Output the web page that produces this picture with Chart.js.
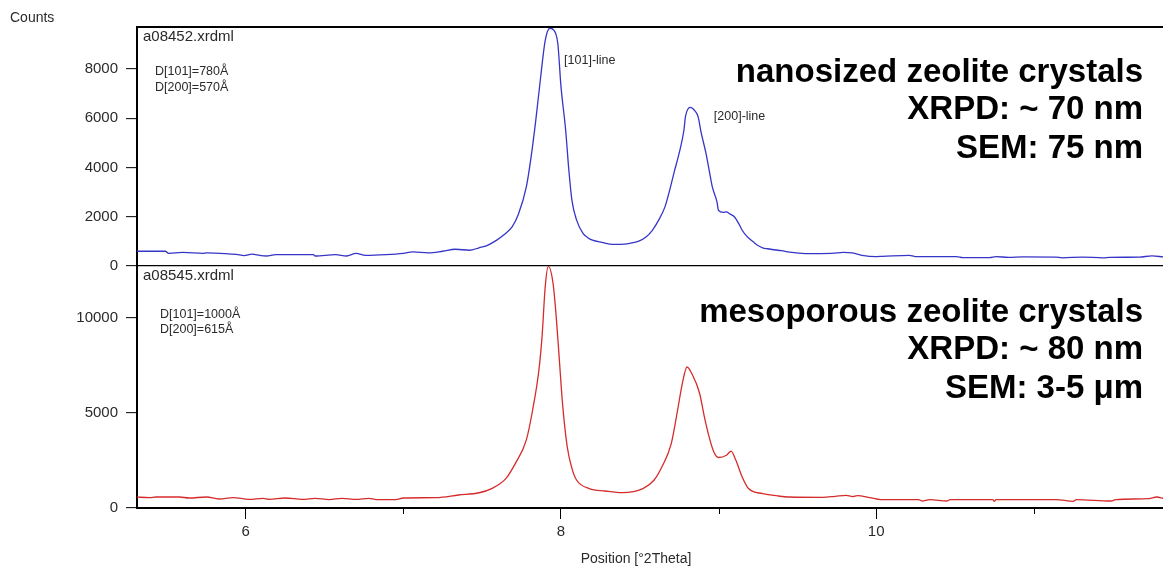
<!DOCTYPE html>
<html>
<head>
<meta charset="utf-8">
<script src="https://cdn.jsdelivr.net/npm/chart.js@4/dist/chart.umd.min.js"></script>
<style>
  html, body { margin: 0; padding: 0; background: #fff; }
  #wrap { width: 1163px; height: 567px; position: relative; }
</style>
</head>
<body>
<div id="wrap"><canvas id="xrd" width="1163" height="567"></canvas></div>
<script>
// Diffraction scans, position in degrees 2-theta and detector counts
const theta2Nano = [
  5.30, 5.49, 5.51, 5.60, 5.73, 5.75, 5.87, 5.94, 5.99, 6.04, 6.09, 6.13, 6.19, 6.30, 6.43, 6.44,
  6.57, 6.64, 6.70, 6.76, 6.89, 7.00, 7.06, 7.16, 7.25, 7.33, 7.42, 7.48, 7.53, 7.59, 7.64, 7.69,
  7.73, 7.78, 7.81, 7.84, 7.87, 7.90, 7.93, 7.95, 7.98, 8.00, 8.03, 8.05, 8.07, 8.10, 8.14, 8.17,
  8.20, 8.26, 8.33, 8.38, 8.43, 8.49, 8.54, 8.58, 8.62, 8.66, 8.69, 8.72, 8.75, 8.78, 8.79, 8.82,
  8.85, 8.87, 8.89, 8.92, 8.94, 8.96, 8.99, 9.00, 9.03, 9.05, 9.07, 9.10, 9.13, 9.15, 9.18, 9.22,
  9.25, 9.28, 9.31, 9.34, 9.40, 9.45, 9.55, 9.72, 9.79, 9.85, 9.91, 10.00, 10.04, 10.21, 10.25, 10.51,
  10.55, 10.72, 10.76, 10.84, 10.93, 11.14, 11.18, 11.31, 11.44, 11.48, 11.67, 11.75, 11.82
];
const countsNano = [
  598, 598, 516, 552, 516, 530, 504, 470, 420, 480, 430, 406, 463, 463, 463, 406,
  463, 406, 516, 435, 463, 516, 570, 530, 598, 679, 640, 740, 830, 1040, 1280, 1590,
  2100, 3200, 4400, 5900, 7600, 9150, 9650, 9600, 9030, 7300, 5500, 3900, 2650, 1850, 1320, 1150,
  1050, 960, 880, 880, 910, 1000, 1180, 1450, 1860, 2400, 3080, 3850, 4580, 5500, 6060, 6440,
  6300, 6060, 5400, 4580, 3900, 3220, 2600, 2250, 2180, 2200, 2120, 2000, 1700, 1450, 1200, 980,
  830, 740, 700, 670, 620, 560, 505, 516, 557, 530, 435, 382, 390, 435, 382, 382,
  341, 341, 382, 350, 370, 362, 330, 362, 330, 350, 362, 408, 370
];

const theta2Meso = [
  5.30, 5.39, 5.43, 5.58, 5.64, 5.75, 5.83, 5.92, 6.02, 6.11, 6.15, 6.25, 6.36, 6.44, 6.53, 6.61,
  6.70, 6.78, 6.83, 6.95, 7.00, 7.21, 7.35, 7.48, 7.56, 7.65, 7.71, 7.78, 7.82, 7.86, 7.88, 7.90,
  7.92, 7.95, 7.97, 7.99, 8.01, 8.04, 8.07, 8.10, 8.18, 8.28, 8.39, 8.52, 8.59, 8.64, 8.70, 8.74,
  8.77, 8.80, 8.83, 8.88, 8.91, 8.94, 8.97, 9.00, 9.05, 9.08, 9.11, 9.15, 9.19, 9.28, 9.38, 9.45,
  9.66, 9.74, 9.81, 9.85, 9.88, 9.96, 10.03, 10.27, 10.29, 10.34, 10.45, 10.47, 10.74, 10.75, 10.76, 11.14,
  11.25, 11.27, 11.49, 11.52, 11.73, 11.78, 11.82
];
const countsMeso = [
  578, 546, 578, 578, 525, 578, 473, 546, 457, 510, 457, 525, 457, 510, 441, 510,
  457, 510, 441, 441, 525, 546, 683, 800, 1020, 1540, 2330, 3560, 5130, 7230, 8980, 11600,
  12680, 11780, 10030, 7760, 5480, 3200, 2070, 1455, 1020, 893, 808, 1020, 1455, 2150, 3380, 5130,
  6530, 7400, 7060, 6010, 4780, 3730, 2940, 2650, 2770, 2990, 2500, 1630, 1020, 756, 630, 578,
  562, 614, 667, 596, 650, 546, 441, 441, 368, 441, 368, 441, 441, 350, 441, 441,
  350, 441, 368, 441, 494, 578, 510
];

// Axis ticks
const xTickPositions = [6, 7, 8, 9, 10, 11];
const xTickLabels = [6, 8, 10];
const nanoTicks = [0, 2000, 4000, 6000, 8000];
const mesoTicks = [0, 5000, 10000];

const FONT = '"Liberation Sans", Arial, sans-serif';
const TEXT = '#2a2a2a';

const toPoints = (xs, ys) => xs.map((x, i) => ({ x: x, y: ys[i] }));

// Frame line along the top, short unlabelled x ticks, axis caption and panel notes
const panelNotes = {
  id: 'panelNotes',
  afterDraw(chart) {
    const { ctx, chartArea: a, scales } = chart;
    const xs = scales.x, yN = scales.yNano, yM = scales.yMeso;
    ctx.save();
    ctx.strokeStyle = '#000';
    ctx.lineWidth = 2;
    ctx.beginPath();
    ctx.moveTo(a.left - 1, a.top);
    ctx.lineTo(a.right, a.top);
    ctx.stroke();

    ctx.lineWidth = 1;
    ctx.beginPath();
    xTickPositions.filter(v => !xTickLabels.includes(v)).forEach(v => {
      const px = Math.round(xs.getPixelForValue(v)) + 0.5;
      ctx.moveTo(px, a.bottom);
      ctx.lineTo(px, a.bottom + 6);
    });
    ctx.stroke();

    ctx.fillStyle = TEXT;
    ctx.textBaseline = 'alphabetic';
    ctx.textAlign = 'center';
    ctx.font = '14px ' + FONT;
    ctx.fillText('Position [\u00B02Theta]', (a.left + a.right) / 2 - 14, 563);

    ctx.textAlign = 'left';
    ctx.fillText('Counts', 10, 22);

    const nanoTop = yN.top, mesoTop = yM.top;
    ctx.font = '15px ' + FONT;
    ctx.fillText('a08452.xrdml', a.left + 6, nanoTop + 14);
    ctx.fillText('a08545.xrdml', a.left + 6, mesoTop + 14);

    ctx.font = '12.5px ' + FONT;
    ctx.fillText('D[101]=780\u00C5', a.left + 18, nanoTop + 48);
    ctx.fillText('D[200]=570\u00C5', a.left + 18, nanoTop + 64);
    ctx.fillText('D[101]=1000\u00C5', a.left + 23, mesoTop + 52);
    ctx.fillText('D[200]=615\u00C5', a.left + 23, mesoTop + 67);

    ctx.fillText('[101]-line', xs.getPixelForValue(8.02), yN.getPixelForValue(8200));
    ctx.fillText('[200]-line', xs.getPixelForValue(8.97), yN.getPixelForValue(5920));

    ctx.fillStyle = '#000';
    ctx.textAlign = 'right';
    ctx.font = 'bold 33px ' + FONT;
    const rx = a.right - 20;
    ctx.fillText('nanosized zeolite crystals', rx, nanoTop + 55);
    ctx.fillText('XRPD: ~ 70 nm', rx, nanoTop + 92);
    ctx.fillText('SEM: 75 nm', rx, nanoTop + 131);
    ctx.fillText('mesoporous zeolite crystals', rx, mesoTop + 56);
    ctx.fillText('XRPD: ~ 80 nm', rx, mesoTop + 93);
    ctx.fillText('SEM: 3-5 \u03BCm', rx, mesoTop + 132);
    ctx.restore();
  }
};

const yAxisBase = (ticks, max, weight, order) => ({
  type: 'linear',
  position: 'left',
  stack: 'panels',
  stackWeight: weight,
  weight: order,
  min: 0,
  max: max,
  afterBuildTicks: s => { s.ticks = ticks.map(v => ({ value: v })); },
  afterFit: s => { s.width = 137; },
  border: { display: true, color: '#000', width: 2 },
  grid: {
    display: true,
    drawOnChartArea: true,
    color: c => (c.tick && c.tick.value === 0 ? '#000' : 'rgba(0,0,0,0)'),
    lineWidth: 1.3,
    drawTicks: true,
    tickLength: 11,
    tickColor: '#000',
    tickWidth: 1
  },
  ticks: {
    color: TEXT,
    font: { family: FONT, size: 15 },
    padding: 8,
    callback: v => String(v)
  }
});

new Chart(document.getElementById('xrd'), {
  type: 'line',
  data: {
    datasets: [
      {
        label: 'a08452.xrdml',
        data: toPoints(theta2Nano, countsNano),
        yAxisID: 'yNano',
        borderColor: '#3535c8',
        borderWidth: 1.3,
        pointRadius: 0,
        cubicInterpolationMode: 'monotone'
      },
      {
        label: 'a08545.xrdml',
        data: toPoints(theta2Meso, countsMeso),
        yAxisID: 'yMeso',
        borderColor: '#d62b2b',
        borderWidth: 1.3,
        pointRadius: 0,
        cubicInterpolationMode: 'monotone'
      }
    ]
  },
  options: {
    responsive: false,
    animation: false,
    layout: { padding: { top: 27, left: 0, right: 0, bottom: 0 } },
    plugins: {
      legend: { display: false },
      tooltip: { enabled: false },
      title: { display: false }
    },
    scales: {
      x: {
        type: 'linear',
        min: 5.31,
        max: 11.82,
        afterBuildTicks: s => { s.ticks = xTickPositions.map(v => ({ value: v })); },
        afterFit: s => { s.height = 59; },
        border: { display: true, color: '#000', width: 2 },
        grid: {
          display: true,
          drawOnChartArea: false,
          drawTicks: true,
          tickLength: 11,
          tickColor: c => (c.tick && xTickLabels.includes(c.tick.value) ? '#000' : 'rgba(0,0,0,0)'),
          tickWidth: 1
        },
        ticks: {
          color: TEXT,
          font: { family: FONT, size: 15 },
          padding: 4,
          maxRotation: 0,
          autoSkip: false,
          callback: v => (xTickLabels.includes(v) ? String(v) : '')
        }
      },
      yNano: yAxisBase(nanoTicks, 9700, 239, 1),
      yMeso: yAxisBase(mesoTicks, 12700, 242, 0)
    }
  },
  plugins: [panelNotes]
});
</script>
</body>
</html>
